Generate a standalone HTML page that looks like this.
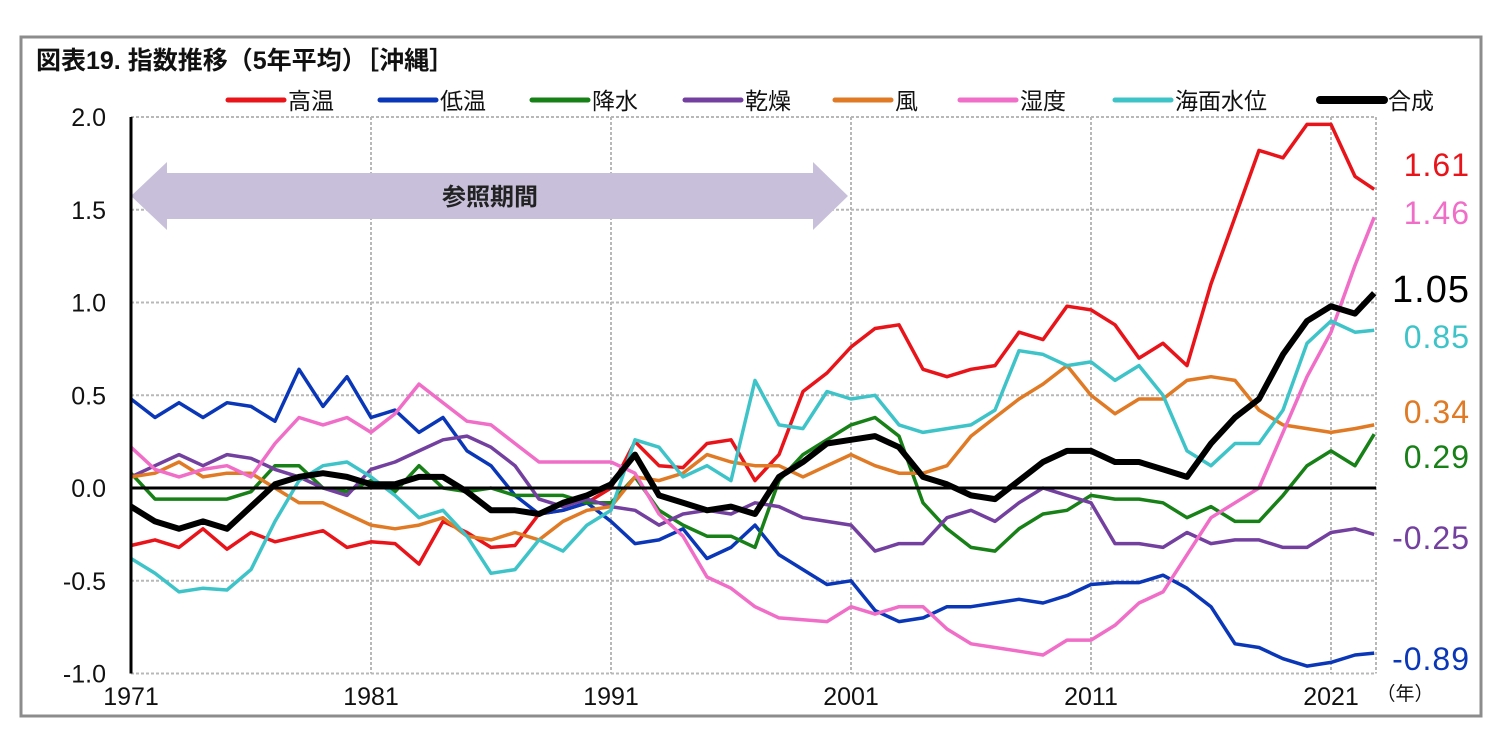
<!DOCTYPE html>
<html><head><meta charset="utf-8"><style>
body{margin:0;background:#fff;}
svg{display:block;font-family:"Liberation Sans","Noto Sans CJK JP",sans-serif;}
</style></head><body>
<svg id="chart" width="1503" height="744" viewBox="0 0 1503 744">
<rect x="21" y="37" width="1460" height="679" fill="#fff" stroke="#8c8c8c" stroke-width="3"/>
<text x="36" y="69" font-size="25" font-weight="bold" fill="#111">図表19. 指数推移（5年平均）［沖縄］</text>
<g id="grid"></g>
<g id="arrow">
<polygon points="131,196 167,162 167,173 813,173 813,162 848,196 813,230 813,219 167,219 167,230" fill="#c8c0da"/>
<text x="490" y="205" font-size="24" font-weight="bold" fill="#222" text-anchor="middle">参照期間</text>
</g>
<g id="series"></g>
<g id="axes"></g>
<g id="legend"></g>
<g id="endlabels"></g>
</svg>
<script>
const years = [1971,1972,1973,1974,1975,1976,1977,1978,1979,1980,1981,1982,1983,1984,1985,1986,1987,1988,1989,1990,1991,1992,1993,1994,1995,1996,1997,1998,1999,2000,2001,2002,2003,2004,2005,2006,2007,2008,2009,2010,2011,2012,2013,2014,2015,2016,2017,2018,2019,2020,2021,2022,2022.8];
const highTemp = [-0.31,-0.28,-0.32,-0.22,-0.33,-0.24,-0.29,-0.26,-0.23,-0.32,-0.29,-0.3,-0.41,-0.18,-0.24,-0.32,-0.31,-0.14,-0.12,-0.08,0.0,0.25,0.12,0.11,0.24,0.26,0.04,0.18,0.52,0.62,0.76,0.86,0.88,0.64,0.6,0.64,0.66,0.84,0.8,0.98,0.96,0.88,0.7,0.78,0.66,1.1,1.46,1.82,1.78,1.96,1.96,1.68,1.61];
const lowTemp = [0.48,0.38,0.46,0.38,0.46,0.44,0.36,0.64,0.44,0.6,0.38,0.42,0.3,0.38,0.2,0.12,-0.04,-0.14,-0.12,-0.08,-0.18,-0.3,-0.28,-0.22,-0.38,-0.32,-0.2,-0.36,-0.44,-0.52,-0.5,-0.66,-0.72,-0.7,-0.64,-0.64,-0.62,-0.6,-0.62,-0.58,-0.52,-0.51,-0.51,-0.47,-0.54,-0.64,-0.84,-0.86,-0.92,-0.96,-0.94,-0.9,-0.89];
const precip = [0.08,-0.06,-0.06,-0.06,-0.06,-0.02,0.12,0.12,0.0,-0.02,0.04,-0.02,0.12,0.0,-0.02,0.0,-0.04,-0.04,-0.04,-0.08,-0.08,0.06,-0.12,-0.2,-0.26,-0.26,-0.32,0.04,0.18,0.26,0.34,0.38,0.28,-0.08,-0.22,-0.32,-0.34,-0.22,-0.14,-0.12,-0.04,-0.06,-0.06,-0.08,-0.16,-0.1,-0.18,-0.18,-0.04,0.12,0.2,0.12,0.29];
const dryness = [0.06,0.12,0.18,0.12,0.18,0.16,0.1,0.06,0.0,-0.04,0.1,0.14,0.2,0.26,0.28,0.22,0.12,-0.06,-0.1,-0.06,-0.1,-0.12,-0.2,-0.14,-0.12,-0.14,-0.08,-0.1,-0.16,-0.18,-0.2,-0.34,-0.3,-0.3,-0.16,-0.12,-0.18,-0.08,0.0,-0.04,-0.08,-0.3,-0.3,-0.32,-0.24,-0.3,-0.28,-0.28,-0.32,-0.32,-0.24,-0.22,-0.25];
const wind = [0.06,0.08,0.14,0.06,0.08,0.08,0.0,-0.08,-0.08,-0.14,-0.2,-0.22,-0.2,-0.16,-0.26,-0.28,-0.24,-0.28,-0.18,-0.12,-0.1,0.06,0.04,0.08,0.18,0.14,0.12,0.12,0.06,0.12,0.18,0.12,0.08,0.08,0.12,0.28,0.38,0.48,0.56,0.66,0.5,0.4,0.48,0.48,0.58,0.6,0.58,0.42,0.34,0.32,0.3,0.32,0.34];
const humidity = [0.22,0.1,0.06,0.1,0.12,0.06,0.24,0.38,0.34,0.38,0.3,0.4,0.56,0.46,0.36,0.34,0.24,0.14,0.14,0.14,0.14,0.08,-0.14,-0.26,-0.48,-0.54,-0.64,-0.7,-0.71,-0.72,-0.64,-0.68,-0.64,-0.64,-0.76,-0.84,-0.86,-0.88,-0.9,-0.82,-0.82,-0.74,-0.62,-0.56,-0.36,-0.16,-0.08,0.0,0.3,0.6,0.84,1.2,1.46];
const seaLevel = [-0.38,-0.46,-0.56,-0.54,-0.55,-0.44,-0.18,0.04,0.12,0.14,0.06,-0.04,-0.16,-0.12,-0.26,-0.46,-0.44,-0.28,-0.34,-0.2,-0.12,0.26,0.22,0.06,0.12,0.04,0.58,0.34,0.32,0.52,0.48,0.5,0.34,0.3,0.32,0.34,0.42,0.74,0.72,0.66,0.68,0.58,0.66,0.5,0.2,0.12,0.24,0.24,0.42,0.78,0.9,0.84,0.85];
const composite = [-0.1,-0.18,-0.22,-0.18,-0.22,-0.1,0.02,0.06,0.08,0.06,0.02,0.02,0.06,0.06,-0.02,-0.12,-0.12,-0.14,-0.08,-0.04,0.02,0.18,-0.04,-0.08,-0.12,-0.1,-0.14,0.06,0.14,0.24,0.26,0.28,0.22,0.06,0.02,-0.04,-0.06,0.04,0.14,0.2,0.2,0.14,0.14,0.1,0.06,0.24,0.38,0.48,0.72,0.9,0.98,0.94,1.05];
const seriesNames = ["高温","低温","降水","乾燥","風","湿度","海面水位","合成"];
const seriesKeys = ["high-temp","low-temp","precipitation","dryness","wind","humidity","sea-level","composite"];
const seriesColors = ["#e8141a","#0a36b8","#178017","#7340a0","#e07a24","#f06ec8","#3ec4c8","#000"];
const yTicks = [2.0,1.5,1.0,0.5,0.0,-0.5,-1.0];
const yTickLabels = ["2.0","1.5","1.0","0.5","0.0","-0.5","-1.0"];
const xTicks = [1971,1981,1991,2001,2011,2021];
const endLabels = ["1.61","-0.89","0.29","-0.25","0.34","1.46","0.85","1.05"];

const NS="http://www.w3.org/2000/svg";
const X0=131, X1=1376;
function xs(yr){return 131+(yr-1971)*24;}
function ys(v){return 488-v*185.5;}
function mk(tag,attrs,parent){const e=document.createElementNS(NS,tag);for(const k in attrs)e.setAttribute(k,attrs[k]);parent.appendChild(e);return e;}
const grid=document.getElementById('grid');
yTicks.forEach((t,i)=>{
  if(t!==0){const l=mk('line',{x1:X0,x2:X1,y1:ys(t),y2:ys(t),stroke:'#b8b8b8','stroke-width':2,'stroke-dasharray':'3,2'},grid);
  
  }
  const tx=mk('text',{x:106,y:ys(t)+9,'font-size':25,'text-anchor':'end',fill:'#111'},grid);
  tx.textContent=yTickLabels[i];
  
  
});
xTicks.forEach(t=>{
  if(t!==1971){const l=mk('line',{x1:xs(t),x2:xs(t),y1:ys(2),y2:ys(-1),stroke:'#b8b8b8','stroke-width':2,'stroke-dasharray':'3,2'},grid);
  
  }
  const tx=mk('text',{x:xs(t),y:705,'font-size':25,'text-anchor':'middle',fill:'#111'},grid);
  tx.textContent=String(t);
  
  
});
const rl=mk('line',{x1:X1,x2:X1,y1:ys(2),y2:ys(-1),stroke:'#b8b8b8','stroke-width':2,'stroke-dasharray':'3,2'},grid);


const unit=mk('text',{x:1405,y:700,'font-size':19,'text-anchor':'middle',fill:'#111'},grid);
unit.textContent='（年）';



const data=[highTemp,lowTemp,precip,dryness,wind,humidity,seaLevel,composite];
const sg=document.getElementById('series');
data.forEach((arr,i)=>{
  const d=arr.map((v,j)=>(j?'L':'M')+xs(years[j]).toFixed(1)+','+ys(v).toFixed(1)).join(' ');
  const p=mk('path',{d:d,fill:'none',stroke:seriesColors[i],'stroke-width':i===7?6:3.5,'stroke-linejoin':'round'},sg);
  
  
});
const ax=document.getElementById('axes');
const zl=mk('line',{x1:X0,x2:X1,y1:ys(0),y2:ys(0),stroke:'#000','stroke-width':3},ax);


const yl=mk('line',{x1:X0,x2:X0,y1:ys(2),y2:ys(-1),stroke:'#000','stroke-width':3},ax);



const legX=[228,380,532,685,835,960,1115,1320];
const lg=document.getElementById('legend');
seriesNames.forEach((n,i)=>{
  const g=mk('g',{},lg);
  
  
  mk('line',{x1:legX[i],x2:legX[i]+(i===7?64:56),y1:100,y2:100,stroke:seriesColors[i],'stroke-width':i===7?8:5,'stroke-linecap':'round'},g);
  const t=mk('text',{x:legX[i]+(i===7?68:60),y:109,'font-size':23,fill:'#111'},g);
  t.textContent=n;
});
// label layout (pixel positions for de-overlapped end labels)
const labelCenterY=[165,659,457,538,412,213,337,289];
const el=document.getElementById('endlabels');
data.forEach((arr,i)=>{
  const big=i===7;
  const t=mk('text',{x:1470,y:labelCenterY[i]+(big?13:11),'font-size':big?38:32,'text-anchor':'end',fill:seriesColors[i],'letter-spacing':'1'},el);
  t.textContent=endLabels[i];
  
  
});
</script>
</body></html>
